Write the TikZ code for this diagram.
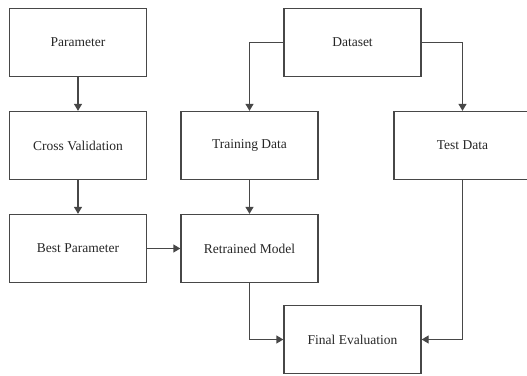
\documentclass[tikz,border=0pt]{standalone}
\usepackage{fontspec}
\setmainfont{Liberation Serif}
\usetikzlibrary{arrows.meta}
\begin{document}
\begin{tikzpicture}[x=1pt,y=-1pt,
  box/.style={draw=black!72, line width=1.3pt, rectangle, minimum width=137pt, minimum height=68pt, inner sep=0pt, align=center, font=\fontsize{13.5}{16}\selectfont, text=black!85},
  conn/.style={draw=black!72, line width=1.3pt, -{Triangle[length=7pt,width=8pt]}}]
\useasboundingbox (0,0) rectangle (527,375);
\node[box] (param) at (78,42.5) {Parameter};
\node[box] (cv) at (78,145.5) {Cross Validation};
\node[box] (best) at (78,248.5) {Best Parameter};
\node[box] (data) at (352.5,42.5) {Dataset};
\node[box] (train) at (249.5,145.5) {Training Data};
\node[box] (test) at (462.5,145.5) {Test Data};
\node[box] (retr) at (249.5,248.5) {Retrained Model};
\node[box] (final) at (352.5,339.5) {Final Evaluation};
\draw[conn] (param) -- (cv);
\draw[conn] (cv) -- (best);
\draw[conn] (best) -- (retr);
\draw[conn] (data.west) -| (train.north);
\draw[conn] (data.east) -| (test.north);
\draw[conn] (train) -- (retr);
\draw[conn] (retr.south) |- (final.west);
\draw[conn] (test.south) |- (final.east);
\end{tikzpicture}
\end{document}
